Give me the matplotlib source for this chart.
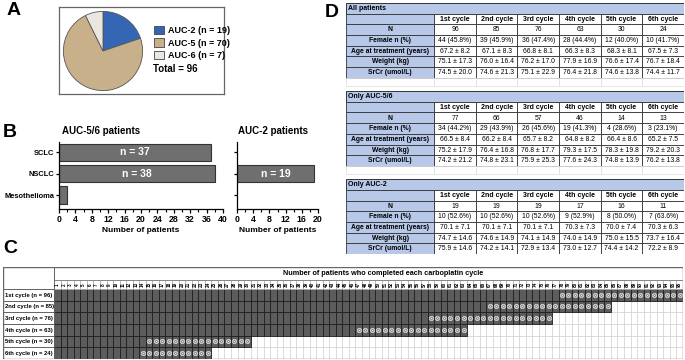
import matplotlib.pyplot as plt
from matplotlib.patches import Rectangle
from matplotlib.ticker import MultipleLocator

plt.rcParams['font.family'] = ['Liberation Sans', 'DejaVu Sans']

W, H = 685, 360

# ---- data ----
auc_labels = ['AUC-2 (n = 19)', 'AUC-5 (n = 70)', 'AUC-6 (n = 7)']
auc_counts = [19, 70, 7]
auc_colors = ['#3566b3', '#c8b18a', '#ebe7e0']

tumour_types = ['SCLC', 'NSCLC', 'Mesothelioma']
auc56_counts = [37, 38, 2]
auc2_counts = [0, 19, 0]

cycle_names = ['1st cycle', '2nd cycle', '3rd cycle', '4th cycle', '5th cycle', '6th cycle']
n_all = [96, 85, 76, 63, 30, 24]
n_auc56 = [77, 66, 57, 46, 14, 13]
n_auc2 = [19, 19, 19, 17, 16, 11]

female_all = ['44 (45.8%)', '39 (45.9%)', '36 (47.4%)', '28 (44.4%)', '12 (40.0%)', '10 (41.7%)']
age_all = ['67.2 ± 8.2', '67.1 ± 8.3', '66.8 ± 8.1', '66.3 ± 8.3', '68.3 ± 8.1', '67.5 ± 7.3']
weight_all = ['75.1 ± 17.3', '76.0 ± 16.4', '76.2 ± 17.0', '77.9 ± 16.9', '76.6 ± 17.4', '76.7 ± 18.4']
srcr_all = ['74.5 ± 20.0', '74.6 ± 21.3', '75.1 ± 22.9', '76.4 ± 21.8', '74.6 ± 13.8', '74.4 ± 11.7']

female_56 = ['34 (44.2%)', '29 (43.9%)', '26 (45.6%)', '19 (41.3%)', '4 (28.6%)', '3 (23.1%)']
age_56 = ['66.5 ± 8.4', '66.2 ± 8.4', '65.7 ± 8.2', '64.8 ± 8.2', '66.4 ± 8.6', '65.2 ± 7.5']
weight_56 = ['75.2 ± 17.9', '76.4 ± 16.8', '76.8 ± 17.7', '79.3 ± 17.5', '78.3 ± 19.8', '79.2 ± 20.3']
srcr_56 = ['74.2 ± 21.2', '74.8 ± 23.1', '75.9 ± 25.3', '77.6 ± 24.3', '74.8 ± 13.9', '76.2 ± 13.8']

female_2 = ['10 (52.6%)', '10 (52.6%)', '10 (52.6%)', '9 (52.9%)', '8 (50.0%)', '7 (63.6%)']
age_2 = ['70.1 ± 7.1', '70.1 ± 7.1', '70.1 ± 7.1', '70.3 ± 7.3', '70.0 ± 7.4', '70.3 ± 6.3']
weight_2 = ['74.7 ± 14.6', '74.6 ± 14.9', '74.1 ± 14.9', '74.0 ± 14.9', '75.0 ± 15.5', '73.7 ± 16.4']
srcr_2 = ['75.9 ± 14.6', '74.2 ± 14.1', '72.9 ± 13.4', '73.0 ± 12.7', '74.4 ± 14.2', '72.2 ± 8.9']

row_names = ['N', 'Female n (%)', 'Age at treatment (years)', 'Weight (kg)', 'SrCr (umol/L)']


def rect(x0, y0, x1, y1):
    # pixel box -> figure coords
    return [x0 / W, 1 - y1 / H, (x1 - x0) / W, (y1 - y0) / H]


fig = plt.figure(figsize=(W / 100, H / 100), dpi=100)
fig.patch.set_facecolor('white')

for lab, x, y in [('A', 7, 2), ('B', 3, 124), ('C', 3, 240), ('D', 325, 4)]:
    fig.text(x / W, 1 - y / H, lab, fontsize=14, fontweight='bold', va='top', ha='left')

# ---- A: pie ----
box = fig.add_axes(rect(59, 7, 224, 94))
box.set_xticks([])
box.set_yticks([])
for s in box.spines.values():
    s.set_color('#666666')
    s.set_linewidth(0.9)

ax_pie = fig.add_axes(rect(63, 11, 143, 91))
wedges, _ = ax_pie.pie(auc_counts, colors=auc_colors, startangle=90, counterclock=False,
                       wedgeprops=dict(edgecolor='#555555', linewidth=0.6))
ax_pie.set_xlim(-1.01, 1.01)
ax_pie.set_ylim(-1.01, 1.01)
ax_pie.set_aspect('equal')
leg = fig.legend(wedges, auc_labels, loc='upper left', bbox_to_anchor=(150 / W, 1 - 22 / H),
                 frameon=False, prop=dict(size=6.5, weight='bold'), handlelength=1.1,
                 handleheight=1.1, labelspacing=0.35, handletextpad=0.5, borderaxespad=0)
for h in leg.legend_handles:
    h.set_edgecolor('#444444')
    h.set_linewidth(0.6)
fig.text(153 / W, 1 - 69 / H, 'Total = %d' % sum(auc_counts), fontsize=7, fontweight='bold', va='center')

# ---- B: bar charts ----
def bar_panel(r, counts, xmax, show_labels, title, title_x):
    ax = fig.add_axes(r)
    ypos = [i for i, c in enumerate(counts) if c > 0]
    vals = [c for c in counts if c > 0]
    ax.barh(ypos, vals, height=0.8, color='#6f6f6f', edgecolor='#333333', linewidth=0.8)
    for y, v in zip(ypos, vals):
        if v > 10:
            ax.text(v / 2, y, 'n = %d' % v, color='white', fontsize=7.5, fontweight='bold',
                    ha='center', va='center')
    ax.set_xlim(0, xmax)
    ax.set_ylim(2.65, -0.47)
    ax.set_yticks(range(len(tumour_types)))
    ax.set_yticklabels(tumour_types if show_labels else [''] * len(tumour_types),
                       fontsize=5.4, fontweight='bold')
    ax.xaxis.set_major_locator(MultipleLocator(4))
    ax.xaxis.set_minor_locator(MultipleLocator(2))
    for t in ax.get_xticklabels():
        t.set_fontweight('bold')
    ax.tick_params(axis='x', labelsize=6.3, length=3, width=0.9, pad=1.5)
    ax.tick_params(axis='x', which='minor', length=2, width=0.8)
    ax.tick_params(axis='y', length=2.5, width=0.9, pad=1)
    ax.set_xlabel('Number of patients', fontsize=6, fontweight='bold', labelpad=2)
    ax.spines['top'].set_visible(False)
    ax.spines['right'].set_visible(False)
    for s in ['left', 'bottom']:
        ax.spines[s].set_linewidth(0.9)
    fig.text(title_x / W, 1 - 131 / H, title, fontsize=7, fontweight='bold', va='center')
    return ax


bar_panel(rect(59, 142, 223, 209), auc56_counts, 40, True, 'AUC-5/6 patients', 62)
bar_panel(rect(237, 142, 318, 209), auc2_counts, 20, False, 'AUC-2 patients', 238)

# ---- C: cycle completion grid ----
axc = fig.add_axes(rect(3, 267, 683, 359))
n_cols = max(n_all)
lab_w = 7.8
hdr_top, num_top = -1.88, -0.77
axc.set_xlim(-lab_w, n_cols)
axc.set_ylim(len(n_all), hdr_top)
axc.axis('off')

dark_cells = []
for r, (n, k) in enumerate(zip(n_all, n_auc2)):
    for i in range(n_cols):
        if i >= n:
            axc.add_patch(Rectangle((i, r), 1, 1, fc='white', ec='#d3d3d3', lw=0.5))
        else:
            dark_cells.append((i, r))
for i, r in dark_cells:
    axc.add_patch(Rectangle((i, r), 1, 1, fc='#5c5c5c', ec='#1e1e1e', lw=0.6))

for r, (n, k) in enumerate(zip(n_all, n_auc2)):
    xs = [i + 0.5 for i in range(n - k, n)]
    ys = [r + 0.5] * len(xs)
    axc.scatter(xs, ys, s=10, marker='o', facecolor='#7a7a7a', edgecolors='#e6e6e6', linewidths=0.5, zorder=3)
    axc.scatter(xs, ys, s=3, marker='x', color='#e6e6e6', linewidths=0.4, zorder=4)
    axc.add_patch(Rectangle((-lab_w, r), lab_w, 1, fc='white', ec='#555555', lw=0.6))
    axc.text(-lab_w + 0.3, r + 0.52, '%s (n = %d)' % (cycle_names[r], n), fontsize=4.2,
             fontweight='bold', va='center', ha='left')

for i in range(n_cols):
    axc.add_patch(Rectangle((i, num_top), 1, -num_top, fc='white', ec='#aaaaaa', lw=0.5))
    axc.text(i + 0.5, num_top / 2, str(i + 1), fontsize=3.3, rotation=90, ha='center',
             va='center', fontweight='bold')
axc.add_patch(Rectangle((0, hdr_top), n_cols, num_top - hdr_top, fc='white', ec='#777777', lw=0.6))
axc.text(50.2, (hdr_top + num_top) / 2, 'Number of patients who completed each carboplatin cycle',
         fontsize=5.2, fontweight='bold', ha='center', va='center')
axc.add_patch(Rectangle((-lab_w, hdr_top), lab_w, -hdr_top, fc='white', ec='#555555', lw=0.6))
axc.add_patch(Rectangle((-lab_w, hdr_top), lab_w + n_cols, len(n_all) - hdr_top, fill=False,
                        ec='#666666', lw=1.0, zorder=5))

# ---- D: characteristics tables ----
axd = fig.add_axes(rect(346, 3, 684, 254))
lab_d = 2.12
blue = '#b7c8e8'
edge = '#333333'
blank_h, gap_h = 0.8, 0.45
tables = [
    ('All patients', [[str(v) for v in n_all], female_all, age_all, weight_all, srcr_all]),
    ('Only AUC-5/6', [[str(v) for v in n_auc56], female_56, age_56, weight_56, srcr_56]),
    ('Only AUC-2', [[str(v) for v in n_auc2], female_2, age_2, weight_2, srcr_2]),
]
total_h = 7 * len(tables) + (blank_h + gap_h) * (len(tables) - 1)
axd.set_xlim(-lab_d, len(cycle_names))
axd.set_ylim(total_h, 0)
axd.axis('off')

y = 0
for ti, (title, rows) in enumerate(tables):
    axd.add_patch(Rectangle((-lab_d, y), lab_d + 6, 1, fc=blue, ec=edge, lw=0.7))
    axd.text(-lab_d + 0.04, y + 0.5, title, fontsize=5, fontweight='bold', va='center')
    y += 1
    axd.add_patch(Rectangle((-lab_d, y), lab_d, 1, fc=blue, ec=edge, lw=0.6))
    for j, c in enumerate(cycle_names):
        axd.add_patch(Rectangle((j, y), 1, 1, fc='white', ec=edge, lw=0.6))
        axd.text(j + 0.5, y + 0.52, c, fontsize=5, fontweight='bold', ha='center', va='center')
    y += 1
    for name, vals in zip(row_names, rows):
        axd.add_patch(Rectangle((-lab_d, y), lab_d, 1, fc=blue, ec=edge, lw=0.6))
        axd.text(-lab_d / 2, y + 0.52, name, fontsize=4.9, fontweight='bold', ha='center', va='center')
        for j, v in enumerate(vals):
            axd.add_patch(Rectangle((j, y), 1, 1, fc='white', ec=edge, lw=0.6))
            axd.text(j + 0.5, y + 0.52, v, fontsize=4.9, ha='center', va='center')
        y += 1
    if ti < len(tables) - 1:
        axd.add_patch(Rectangle((-lab_d, y), lab_d, blank_h, fc='white', ec='#dddddd', lw=0.5))
        for j in range(len(cycle_names)):
            axd.add_patch(Rectangle((j, y), 1, blank_h, fc='white', ec='#dddddd', lw=0.5))
        y += blank_h + gap_h

fig.savefig('out.png', dpi=100)
